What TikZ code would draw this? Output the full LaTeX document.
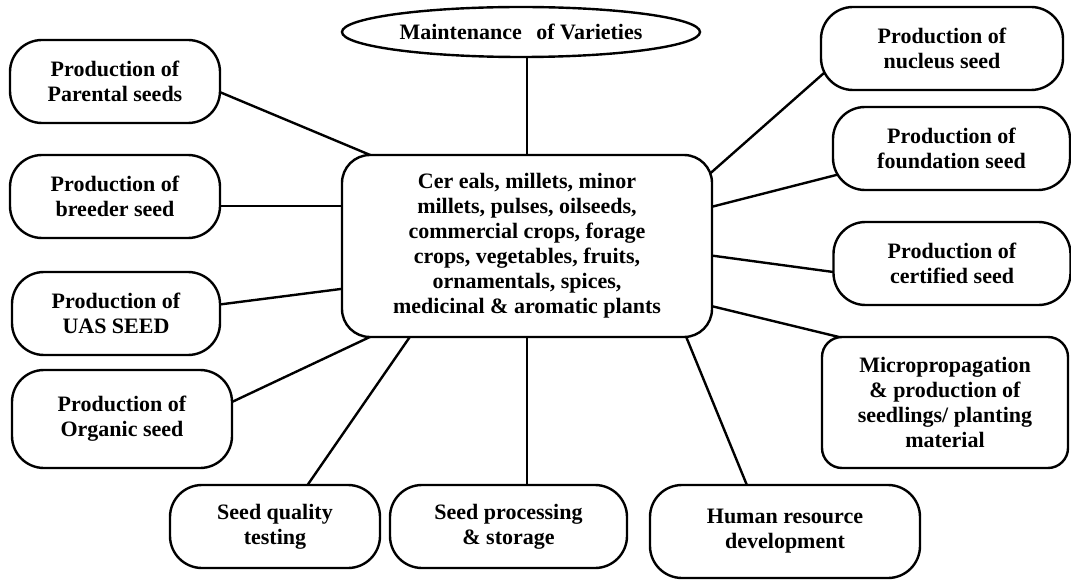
\documentclass[tikz,border=0pt]{standalone}
\usepackage{fontspec}
\setmainfont{Liberation Serif}
\usetikzlibrary{shapes.geometric,backgrounds}
\begin{document}
\begin{tikzpicture}[x=1pt,y=-1pt,line width=2.4pt]
\tikzstyle{box}=[draw,line width=2.4pt,fill=white,rounded corners=32pt,inner sep=0pt,align=center,font=\bfseries\fontsize{22}{25}\selectfont]
\tikzstyle{oval}=[draw,line width=2.4pt,fill=white,ellipse,inner sep=0pt,font=\bfseries\fontsize{22}{25}\selectfont]
\tikzstyle{link}=[line width=2.4pt,shorten <=-6pt,shorten >=-6pt]
\useasboundingbox (0,0) rectangle (1071,580);
% centre and top
\node[box,rounded corners=28pt,minimum width=370pt,minimum height=182pt] (crops) at (527,246)
  {Cer eals, millets, minor\\millets, pulses, oilseeds,\\commercial crops, forage\\crops, vegetables, fruits,\\ornamentals, spices,\\medicinal \& aromatic plants};
\node[oval,minimum width=358pt,minimum height=50pt] (maint) at (521,32) {Maintenance\hspace{9pt} of Varieties};
% left column
\node[box,minimum width=210pt,minimum height=83pt] (parental) at (115,81.5) {Production of\\Parental seeds};
\node[box,minimum width=210pt,minimum height=83pt] (breeder) at (115,196.5) {Production of\\breeder seed};
\node[box,minimum width=208pt,minimum height=83pt] (uas) at (116,313.5) {Production of\\UAS SEED};
\node[box,minimum width=220pt,minimum height=98pt] (organic) at (122,419) {Production of\\Organic seed};
% bottom row
\node[box,minimum width=210pt,minimum height=83pt] (quality) at (275,526.5) {Seed quality\\testing};
\node[box,minimum width=237pt,minimum height=83pt] (processing) at (508.5,526.5) {Seed processing\\\& storage};
\node[box,minimum width=270pt,minimum height=93pt] (hr) at (785,531.5) {Human resource\\development};
% right column
\node[box,minimum width=242pt,minimum height=83pt] (nucleus) at (942,48.5) {Production of\\nucleus seed};
\node[box,minimum width=237pt,minimum height=83pt] (foundation) at (951.5,148.5) {Production of\\foundation seed};
\node[box,minimum width=237pt,minimum height=83pt] (certified) at (952,263.5) {Production of\\certified seed};
\node[box,rounded corners=20pt,minimum width=246pt,minimum height=131pt] (micro) at (945,402.5)
  {Micropropagation\\\& production of\\seedlings/ planting\\material};
% connectors
\begin{pgfonlayer}{background}
\draw[link] (crops.north) -- (crops.north |- maint.south);
\draw[link] (crops.150) -- (parental.-6);
\draw[link] (breeder.-5) -- (breeder.-5 -| crops.west);
\draw[link] (crops.193) -- (uas.5);
\draw[link] (crops.210) -- (organic.9);
\draw[link] (crops.218) -- (quality.52);
\draw[link] (crops.south) -- (crops.south |- processing.north);
\draw[link] (crops.-30) -- (hr.129);
\draw[link] (crops.-18) -- (micro.149);
\draw[link] (crops.-3) -- (certified.184);
\draw[link] (crops.12) -- (foundation.193);
\draw[link] (crops.22) -- (nucleus.193);
\end{pgfonlayer}
\end{tikzpicture}
\end{document}
